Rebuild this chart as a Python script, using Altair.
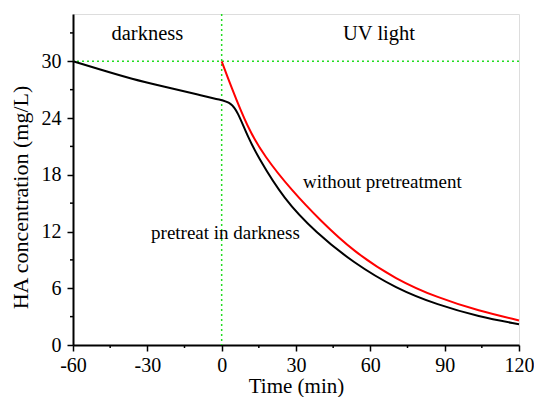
import altair as alt
import pandas as pd

# ---- data ----
dark_time = [-60, -50, -36, -23, -10, 0, 3.7, 6.4, 10.4, 14.4, 25.1, 38, 53.1, 70.5, 87.2, 103.8, 120]
dark_conc = [30, 29.2, 28.1, 27.3, 26.5, 25.9, 25.6, 24.7, 22.1, 20.0, 15.4, 11.9, 8.7, 5.95, 4.24, 3.0, 2.2]

uv_time = [0, 3.7, 10.4, 17.1, 28.4, 39.7, 53.1, 70.5, 87.2, 103.8, 120]
uv_conc = [30, 27.4, 23.0, 20.0, 16.3, 13.2, 9.9, 6.9, 5.0, 3.6, 2.6]

x_major = [-60, -30, 0, 30, 60, 90, 120]
x_minor = [-45, -15, 15, 45, 75, 105]
y_major = [0, 6, 12, 18, 24, 30]
y_minor = [3, 9, 15, 21, 27, 33]

labels_text = ["darkness", "UV light"]
labels_x = [-30, 63.5]
labels_y = [32.2, 32.2]

notes_text = ["without pretreatment", "pretreat in darkness"]
notes_x = [32.8, -28.5]
notes_y = [16.6, 11.2]

FONT = "Liberation Serif"
W, H = 446, 331

xs = alt.Scale(domain=[-60, 120], nice=False, zero=False)
ys = alt.Scale(domain=[0, 35], nice=False, zero=True)

df_dark = pd.DataFrame({"t": dark_time, "c": dark_conc})
df_uv = pd.DataFrame({"t": uv_time, "c": uv_conc})

x_axis = alt.Axis(values=x_major, title="Time (min)", tickSize=6, labelPadding=4,
                  domainWidth=2, domainColor="black", tickColor="black", tickWidth=1.5,
                  labelFont=FONT, labelFontSize=20, labelColor="black", grid=False,
                  labelExpr="toString(datum.value)",
                  titleFont=FONT, titleFontSize=21, titleFontWeight="normal",
                  titleColor="black", titleY=47, titleBaseline="alphabetic",
                  labelFlush=False)
y_axis = alt.Axis(values=y_major, title="HA concentration (mg/L)", tickSize=6, labelPadding=6,
                  domainWidth=2, domainColor="black", tickColor="black", tickWidth=1.5,
                  labelFont=FONT, labelFontSize=20, labelColor="black", grid=False,
                  labelExpr="toString(datum.value)",
                  titleFont=FONT, titleFontSize=22, titleFontWeight="normal",
                  titleColor="black", titleX=-41, titleY=183, titleBaseline="bottom",
                  titleAlign="center", titleAngle=270, labelFlush=False)

black_line = alt.Chart(df_dark).mark_line(color="black", strokeWidth=2, interpolate="basis").encode(
    x=alt.X("t:Q", scale=xs, axis=x_axis),
    y=alt.Y("c:Q", scale=ys, axis=y_axis),
)
red_line = alt.Chart(df_uv).mark_line(color="#ff0000", strokeWidth=2, interpolate="basis").encode(
    x=alt.X("t:Q", scale=xs),
    y=alt.Y("c:Q", scale=ys),
)

vline = alt.Chart(pd.DataFrame({"t": [0]})).mark_rule(
    color="#22dd22", strokeDash=[2, 3], strokeWidth=1.5).encode(x=alt.X("t:Q", scale=xs))
hline = alt.Chart(pd.DataFrame({"c": [30]})).mark_rule(
    color="#22dd22", strokeDash=[2, 3], strokeWidth=1.5).encode(y=alt.Y("c:Q", scale=ys))

xminor = alt.Chart(pd.DataFrame({"t": x_minor})).mark_rule(color="black", strokeWidth=1.5).encode(
    x=alt.X("t:Q", scale=xs), y=alt.value(H), y2=alt.value(H + 3))
yminor = alt.Chart(pd.DataFrame({"c": y_minor})).mark_rule(color="black", strokeWidth=1.5).encode(
    y=alt.Y("c:Q", scale=ys), x=alt.value(0), x2=alt.value(-3))

region_labels = alt.Chart(pd.DataFrame({"t": labels_x, "c": labels_y, "s": labels_text})).mark_text(
    font=FONT, fontSize=20.5, color="black", align="center", baseline="alphabetic").encode(
    x=alt.X("t:Q", scale=xs), y=alt.Y("c:Q", scale=ys), text="s:N")

notes = alt.Chart(pd.DataFrame({"t": notes_x, "c": notes_y, "s": notes_text})).mark_text(
    font=FONT, fontSize=19, color="black", align="left", baseline="alphabetic").encode(
    x=alt.X("t:Q", scale=xs), y=alt.Y("c:Q", scale=ys), text="s:N")

chart = alt.layer(vline, hline, black_line, red_line, xminor, yminor, region_labels, notes).properties(
    width=W, height=H,
    autosize=alt.AutoSizeParams(type="none"),
    padding={"left": 65, "top": 6, "right": 15, "bottom": 52},
).configure_view(stroke="#555555", strokeWidth=1.2).configure(background="white")

chart.save("out.html", embed_options={"renderer": "svg", "actions": False})
